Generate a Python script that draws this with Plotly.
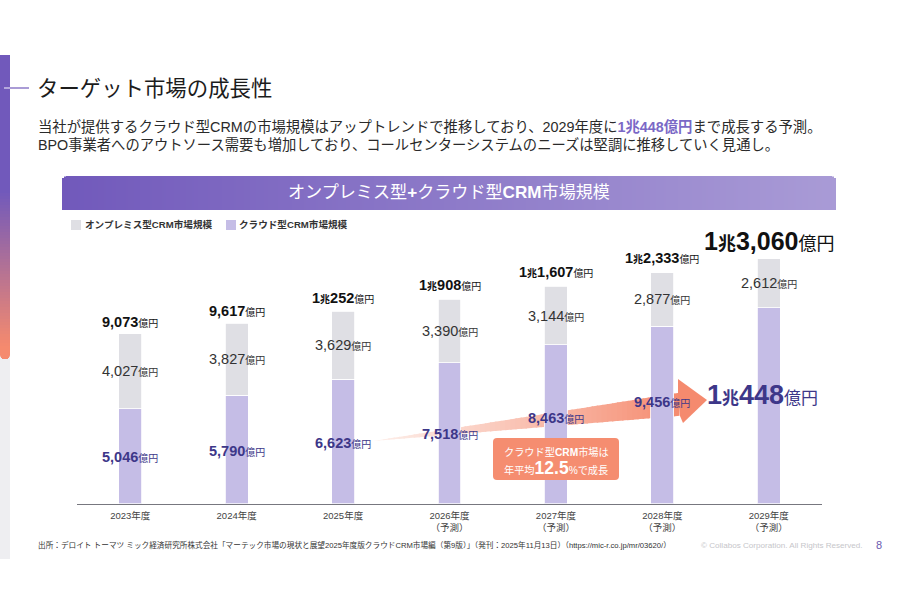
import plotly.graph_objects as go

W, H = 898, 614

years = ["2023年度", "2024年度", "2025年度", "2026年度<br>（予測）", "2027年度<br>（予測）",
         "2028年度<br>（予測）", "2029年度<br>（予測）"]
cloud = [5046, 5790, 6623, 7518, 8463, 9456, 10448]
onprem = [4027, 3827, 3629, 3390, 3144, 2877, 2612]
totals = [9073, 9617, 10252, 10908, 11607, 12333, 13060]

# label offsets in px, the cloud labels sit higher near the arrow
total_shift = [12, 12, 13, 14, 14, 14, 18]
cloud_shift = [-1, -2, -2, -1, 6, 13, 11]

PURPLE = "#7159bb"
SALMON = "#f58a6e"
NAVY = "#3d3789"
CLOUD_COLOR = "#c5bde6"
ONPREM_COLOR = "#dfdfe4"
FONT = '"Liberation Sans", "Noto Sans CJK JP"'


def px(x):
    return x / W


def py(y):
    return 1 - y / H


def mix(c1, c2, t):
    a = [int(c1[i:i + 2], 16) for i in (1, 3, 5)]
    b = [int(c2[i:i + 2], 16) for i in (1, 3, 5)]
    return "rgb(%d,%d,%d)" % tuple(round(p + (q - p) * t) for p, q in zip(a, b))


def box(x0, y0, x1, y1, color):
    return dict(type="rect", xref="paper", yref="paper", x0=px(x0), x1=px(x1), y0=py(y0), y1=py(y1),
                fillcolor=color, line_width=0, layer="below")


def poly(points, color):
    path = "M" + " L".join(f"{px(x):.5f},{py(y):.5f}" for x, y in points) + " Z"
    return dict(type="path", xref="paper", yref="paper", path=path, fillcolor=color,
                line_width=0, layer="below")


def money(v, num, unit, bold=True):
    # 10448 -> 1兆448億円
    if v >= 10000:
        head = f'{v // 10000}<span style="font-size:{unit}px">兆</span>{v % 10000:,}'
    else:
        head = f"{v:,}"
    head = f'<span style="font-size:{num}px">{head}</span>'
    if bold:
        head = f"<b>{head}</b>"
    return f'{head}<span style="font-size:{unit}px">億円</span>'


fig = go.Figure()
fig.add_trace(go.Bar(x=years, y=cloud, name="クラウド型CRM市場規模", width=0.215, showlegend=False,
                     marker=dict(color=CLOUD_COLOR, line=dict(color="#ffffff", width=0.8))))
fig.add_trace(go.Bar(x=years, y=onprem, name="オンプレミス型CRM市場規模", width=0.215, showlegend=False,
                     marker=dict(color=ONPREM_COLOR, line=dict(color="#ffffff", width=0.8))))

shapes = []

# left rail
shapes.append(box(0, 55, 10, 559, "#eeeef1"))
for y in range(55, 355, 3):
    t = max(0, (y - 190) / 155)
    shapes.append(box(0, y, 10, y + 3, mix(PURPLE, SALMON, min(t, 1))))
for y in range(0, 5):
    dx = 5 - (25 - (y + 1) ** 2) ** 0.5
    shapes.append(box(dx, 355 + y, 10 - dx, 356 + y, SALMON))
shapes.append(dict(type="line", xref="paper", yref="paper", x0=px(4), x1=px(10), y0=py(88), y1=py(88),
                   line=dict(color="#e4def5", width=1.2), layer="below"))
shapes.append(dict(type="line", xref="paper", yref="paper", x0=px(10), x1=px(29), y0=py(88), y1=py(88),
                   line=dict(color=PURPLE, width=1.2), layer="below"))

# header band, sliced for the gradient, first and last px follow the corner radius
for x in range(62, 836, 2):
    r = 5
    d = min(x + 1 - 62, 836 - x - 1)
    top = 176 + (r - (r * r - (r - d) ** 2) ** 0.5 if d < r else 0)
    shapes.append(box(x, top, x + 2, 210, mix("#7159bb", "#a99bd6", (x - 62) / 774)))

# legend swatches
shapes.append(box(71, 220, 81, 230, ONPREM_COLOR))
shapes.append(box(226, 220, 236, 230, CLOUD_COLOR))

# growth arrow behind the bars
n = 60
for i in range(n):
    a = 373 + (678 - 373) * i / n
    b = 373 + (678 - 373) * (i + 1.3) / n
    ya0, yb0 = 441 + (393 - 441) * i / n, 441 + (393 - 441) * (i + 1.3) / n
    ya1, yb1 = 441 + (416 - 441) * i / n, 441 + (416 - 441) * (i + 1.3) / n
    c = mix("#fdeee9", SALMON, (i / n) ** 1.1)
    shapes.append(poly([(a, ya0), (b, yb0), (b, yb1), (a, ya1)], c))
shapes.append(poly([(678, 379), (707, 400), (683, 423), (680, 416), (678, 393)], SALMON))

# callout box
rx0, ry0, rx1, ry1, r = 493, 438, 619, 480, 4
shapes.append(dict(type="path", xref="paper", yref="paper", fillcolor="#f58d70", line_width=0, layer="above",
                   path=(f"M{px(rx0 + r)},{py(ry0)} L{px(rx1 - r)},{py(ry0)} "
                         f"Q{px(rx1)},{py(ry0)} {px(rx1)},{py(ry0 + r)} L{px(rx1)},{py(ry1 - r)} "
                         f"Q{px(rx1)},{py(ry1)} {px(rx1 - r)},{py(ry1)} L{px(rx0 + r)},{py(ry1)} "
                         f"Q{px(rx0)},{py(ry1)} {px(rx0)},{py(ry1 - r)} L{px(rx0)},{py(ry0 + r)} "
                         f"Q{px(rx0)},{py(ry0)} {px(rx0 + r)},{py(ry0)} Z")))


def page_text(x, y, text, size, color="#222222", anchor="left"):
    fig.add_annotation(xref="paper", yref="paper", x=px(x), y=py(y), text=text, showarrow=False,
                       xanchor=anchor, yanchor="middle", align=anchor,
                       font=dict(size=size, color=color), borderpad=0, borderwidth=0)


page_text(37, 89, "ターゲット市場の成長性", 21.4, "#1c1c1c")
page_text(38, 127, '当社が提供するクラウド型CRMの市場規模はアップトレンドで推移しており、2029年度に'
          f'<b><span style="color:#7a68c6">1兆448億円</span></b>まで成長する予測。', 14.35, "#2a2a2a")
page_text(38, 145, "BPO事業者へのアウトソース需要も増加しており、コールセンターシステムのニーズは堅調に推移していく見通し。",
          14.3, "#2a2a2a")
page_text(449, 193, "オンプレミス型<b>+</b>クラウド型<b>CRM</b>市場規模", 17.1, "#ffffff", "center")

page_text(85, 225, "<b>オンプレミス型CRM市場規模</b>", 9.6, "#333333")
page_text(239, 225, "<b>クラウド型CRM市場規模</b>", 9.6, "#333333")

for i, year in enumerate(years):
    last = i == len(years) - 1
    # total on top of the stack
    fig.add_annotation(x=year, y=totals[i], yshift=total_shift[i], showarrow=False, yanchor="middle",
                       text=money(totals[i], 25, 18) if last else money(totals[i], 14.5, 10),
                       font=dict(color="#111111"))
    fig.add_annotation(x=year, y=cloud[i] + onprem[i] / 2, showarrow=False, yanchor="middle",
                       text=money(onprem[i], 14.5, 10, bold=False), font=dict(color="#333333"))
    fig.add_annotation(x=year, y=cloud[i] / 2, yshift=cloud_shift[i], showarrow=False, yanchor="middle",
                       xshift=-6 if last else 0,
                       text=money(cloud[i], 27, 17) if last else money(cloud[i], 14.5, 10),
                       font=dict(color=NAVY))

page_text(556, 452, "クラウド型<b>CRM</b>市場は", 10.2, "#ffffff", "center")
page_text(556, 468, '年平均<b><span style="font-size:17.5px">12.5</span></b>%で成長', 10.2, "#ffffff", "center")

page_text(38, 545, "出所：デロイト トーマツ ミック経済研究所株式会社「マーテック市場の現状と展望2025年度版クラウドCRM市場編（第9版）」"
          "（発刊：2025年11月13日）（https://mic-r.co.jp/mr/03620/）", 7.65, "#333333")
page_text(863, 545, "© Collabos Corporation. All Rights Reserved.", 8.1, "#c6c6ca", "right")
page_text(876, 545, "8", 11, "#6a5ab0")

fig.update_layout(
    width=W, height=H, margin=dict(l=0, r=0, t=0, b=0),
    paper_bgcolor="white", plot_bgcolor="white",
    font=dict(family=FONT, size=12),
    barmode="stack", shapes=shapes, showlegend=False,
)
fig.update_xaxes(domain=[px(77), px(822)], range=[-0.5, 6.5], type="category",
                 showline=True, linecolor="#77777f", linewidth=1.2, showgrid=False, ticks="",
                 ticklabelstandoff=3, tickfont=dict(size=9.5, color="#444444"), fixedrange=True)
fig.update_yaxes(domain=[py(503.5), py(210)], range=[0, 293.5 / 0.01873], visible=False, fixedrange=True)

fig.write_html("out.html", config=dict(displayModeBar=False),
               post_script="document.body.style.margin='0';")
